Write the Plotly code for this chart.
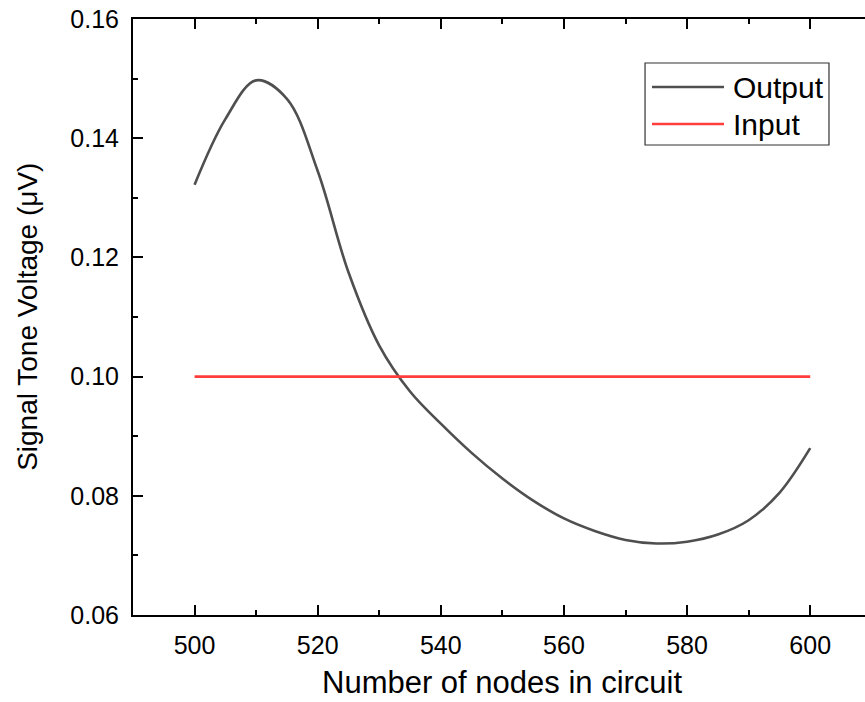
import plotly.graph_objects as go

# ---- data ----
output_x = [500, 505, 510, 515, 520, 525, 530, 535, 540, 545, 550,
            555, 560, 565, 570, 575, 580, 585, 590, 595, 600]
output_y = [0.1322, 0.1432, 0.1497, 0.1466, 0.1345, 0.1175, 0.1052, 0.0975, 0.0921,
            0.0872, 0.0829, 0.0792, 0.0762, 0.0741, 0.0726, 0.0720, 0.0723, 0.0735,
            0.0759, 0.0805, 0.0880]
input_x = [500, 600]
input_y = [0.10, 0.10]

x_ticks = [500, 520, 540, 560, 580, 600]
y_ticks = [0.06, 0.08, 0.10, 0.12, 0.14, 0.16]
y_labels = ["0.06", "0.08", "0.10", "0.12", "0.14", "0.16"]

series_names = ["Output", "Input"]
series_colors = ["#4f4f4f", "#ff3d3d"]

FONT = "Arial, Liberation Sans, sans-serif"

fig = go.Figure()
fig.add_trace(go.Scatter(x=output_x, y=output_y, mode="lines", name=series_names[0],
                         line=dict(color=series_colors[0], width=2.6, shape="spline", smoothing=1.0),
                         showlegend=False))
fig.add_trace(go.Scatter(x=input_x, y=input_y, mode="lines", name=series_names[1],
                         line=dict(color=series_colors[1], width=2.6),
                         showlegend=False))

# manual legend (box + samples + labels) in paper coordinates
fig.add_shape(type="rect", xref="paper", yref="paper", x0=0.6995, x1=0.9508, y0=0.7886, y1=0.9262,
              line=dict(color="#333333", width=1.2), fillcolor="white")
leg_y = [0.8859, 0.8238]
for name, col, yy in zip(series_names, series_colors, leg_y):
    fig.add_shape(type="line", xref="paper", yref="paper", x0=0.709, x1=0.8074, y0=yy, y1=yy,
                  line=dict(color=col, width=2.6))
    fig.add_annotation(xref="paper", yref="paper", x=0.8167, y=yy, text=name, showarrow=False,
                       xanchor="left", yanchor="middle", font=dict(family=FONT, size=30, color="black"))

# axis titles
fig.add_annotation(xref="paper", yref="paper", x=0.504, y=-0.113, text="Number of nodes in circuit",
                   showarrow=False, xanchor="center", yanchor="middle",
                   font=dict(family=FONT, size=31, color="black"))
fig.add_annotation(xref="paper", yref="paper", x=-0.145, y=0.5, text="Signal Tone Voltage (μV)",
                   textangle=-90, showarrow=False, xanchor="center", yanchor="middle",
                   font=dict(family=FONT, size=28, color="black"))

fig.update_layout(
    width=865, height=702,
    margin=dict(l=133, r=0, t=19, b=87),
    paper_bgcolor="white", plot_bgcolor="white",
    font=dict(family=FONT, color="black"),
    xaxis=dict(range=[490, 608.9], tickvals=x_ticks, ticks="inside", ticklen=10, tickwidth=2,
               tickcolor="black", showline=True, linecolor="black", linewidth=2, mirror="ticks",
               showgrid=False, zeroline=False, tickfont=dict(size=25, family=FONT),
               ticklabelstandoff=7,
               minor=dict(dtick=10, tick0=490, ticks="inside", ticklen=5, tickwidth=2, tickcolor="black")),
    yaxis=dict(range=[0.06, 0.16], tickvals=y_ticks, ticktext=y_labels, ticks="inside", ticklen=10,
               tickwidth=2, tickcolor="black", showline=True, linecolor="black", linewidth=2,
               mirror=False, showgrid=False, zeroline=False, tickfont=dict(size=25, family=FONT),
               ticklabelstandoff=7,
               minor=dict(dtick=0.01, tick0=0.06, ticks="inside", ticklen=5, tickwidth=2, tickcolor="black")),
)

fig.write_html("out.html")
